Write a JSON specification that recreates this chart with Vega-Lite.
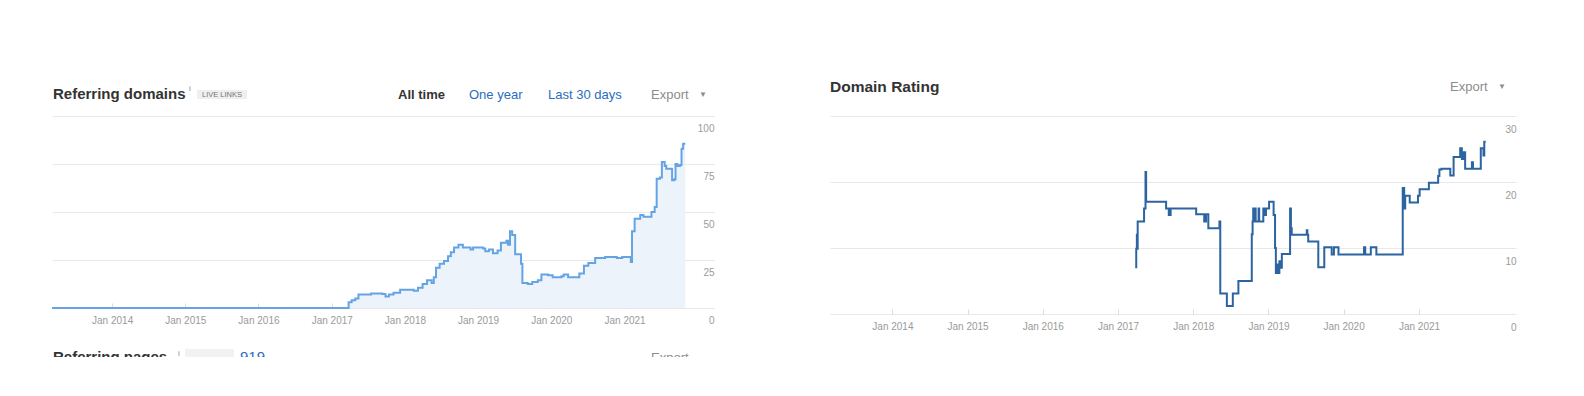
{
  "$schema": "https://vega.github.io/schema/vega-lite/v6.json",
  "background": "white",
  "padding": {"left": 48, "top": 79, "right": 10, "bottom": 0},
  "bounds": "flush",
  "spacing": 116,
  "config": {
    "view": {"stroke": null},
    "font": "Liberation Sans",
    "axis": {
      "labelFont": "Liberation Sans",
      "labelColor": "#9a9a9a",
      "labelFontSize": 10,
      "domain": false,
      "gridColor": "#e8e8e8",
      "gridWidth": 1,
      "title": null
    }
  },
  "datasets": {
    "refdomains": [
      {"date": "2013-03-07", "value": 0},
      {"date": "2017-03-15", "value": 0},
      {"date": "2017-03-26", "value": 3},
      {"date": "2017-04-10", "value": 4},
      {"date": "2017-04-28", "value": 5},
      {"date": "2017-05-14", "value": 7},
      {"date": "2017-07-16", "value": 7.5},
      {"date": "2017-09-10", "value": 7.3},
      {"date": "2017-09-26", "value": 6},
      {"date": "2017-10-13", "value": 7},
      {"date": "2017-11-05", "value": 8},
      {"date": "2017-12-08", "value": 9.5},
      {"date": "2018-02-14", "value": 9},
      {"date": "2018-03-07", "value": 10.5},
      {"date": "2018-03-30", "value": 12.5},
      {"date": "2018-04-21", "value": 14.5},
      {"date": "2018-05-14", "value": 13},
      {"date": "2018-05-25", "value": 16},
      {"date": "2018-06-05", "value": 21},
      {"date": "2018-06-23", "value": 23},
      {"date": "2018-07-15", "value": 24.5},
      {"date": "2018-08-04", "value": 27},
      {"date": "2018-08-18", "value": 29},
      {"date": "2018-09-03", "value": 31.5},
      {"date": "2018-09-25", "value": 33},
      {"date": "2018-10-17", "value": 31.5},
      {"date": "2018-11-24", "value": 30.5},
      {"date": "2018-12-07", "value": 31.5},
      {"date": "2019-01-26", "value": 31},
      {"date": "2019-02-06", "value": 29.5},
      {"date": "2019-02-24", "value": 30.5},
      {"date": "2019-03-16", "value": 28.5},
      {"date": "2019-04-08", "value": 30},
      {"date": "2019-04-25", "value": 34},
      {"date": "2019-05-22", "value": 35},
      {"date": "2019-05-31", "value": 33},
      {"date": "2019-06-09", "value": 40},
      {"date": "2019-06-20", "value": 38},
      {"date": "2019-07-05", "value": 28},
      {"date": "2019-08-03", "value": 23},
      {"date": "2019-08-10", "value": 13},
      {"date": "2019-09-06", "value": 12.5},
      {"date": "2019-09-28", "value": 13.5},
      {"date": "2019-10-26", "value": 14.5},
      {"date": "2019-11-13", "value": 17.5},
      {"date": "2019-12-16", "value": 17},
      {"date": "2020-01-08", "value": 16},
      {"date": "2020-02-21", "value": 16.5},
      {"date": "2020-03-03", "value": 17.5},
      {"date": "2020-03-25", "value": 16},
      {"date": "2020-05-20", "value": 18},
      {"date": "2020-06-12", "value": 22},
      {"date": "2020-07-04", "value": 23.5},
      {"date": "2020-08-07", "value": 26},
      {"date": "2020-09-26", "value": 26.5},
      {"date": "2020-11-23", "value": 26},
      {"date": "2020-12-20", "value": 26.5},
      {"date": "2021-02-01", "value": 24},
      {"date": "2021-02-07", "value": 40},
      {"date": "2021-02-20", "value": 46.5},
      {"date": "2021-03-20", "value": 48.5},
      {"date": "2021-04-05", "value": 47.5},
      {"date": "2021-05-15", "value": 50},
      {"date": "2021-05-31", "value": 52.6},
      {"date": "2021-06-10", "value": 67.3},
      {"date": "2021-06-26", "value": 68},
      {"date": "2021-07-06", "value": 76},
      {"date": "2021-07-20", "value": 74},
      {"date": "2021-07-28", "value": 72.5},
      {"date": "2021-08-26", "value": 66.5},
      {"date": "2021-09-06", "value": 67},
      {"date": "2021-09-12", "value": 75},
      {"date": "2021-09-22", "value": 74},
      {"date": "2021-10-04", "value": 74.5},
      {"date": "2021-10-12", "value": 83},
      {"date": "2021-10-20", "value": 85.6},
      {"date": "2021-10-31", "value": 85.6}
    ],
    "dr": [
      {"date": "2017-03-25", "value": 7.1},
      {"date": "2017-03-30", "value": 9.9},
      {"date": "2017-04-02", "value": 12},
      {"date": "2017-04-04", "value": 9.9},
      {"date": "2017-04-06", "value": 14},
      {"date": "2017-05-07", "value": 16},
      {"date": "2017-05-14", "value": 21.5},
      {"date": "2017-05-17", "value": 17},
      {"date": "2017-08-22", "value": 16},
      {"date": "2017-09-04", "value": 15},
      {"date": "2017-09-13", "value": 16},
      {"date": "2018-01-15", "value": 15.1},
      {"date": "2018-02-23", "value": 14},
      {"date": "2018-03-04", "value": 15.1},
      {"date": "2018-03-15", "value": 13},
      {"date": "2018-05-08", "value": 14},
      {"date": "2018-05-12", "value": 3.1},
      {"date": "2018-06-13", "value": 1.2},
      {"date": "2018-07-12", "value": 3.1},
      {"date": "2018-08-08", "value": 5},
      {"date": "2018-10-12", "value": 12.1},
      {"date": "2018-10-16", "value": 14},
      {"date": "2018-10-19", "value": 16},
      {"date": "2018-10-23", "value": 14},
      {"date": "2018-10-27", "value": 16},
      {"date": "2018-10-31", "value": 14},
      {"date": "2018-11-14", "value": 16},
      {"date": "2018-11-17", "value": 14},
      {"date": "2018-12-07", "value": 16},
      {"date": "2018-12-16", "value": 15},
      {"date": "2018-12-20", "value": 16},
      {"date": "2019-01-04", "value": 17},
      {"date": "2019-01-26", "value": 15},
      {"date": "2019-02-02", "value": 10},
      {"date": "2019-02-06", "value": 6.2},
      {"date": "2019-02-14", "value": 7.5},
      {"date": "2019-02-17", "value": 6.2},
      {"date": "2019-02-23", "value": 8},
      {"date": "2019-02-28", "value": 7},
      {"date": "2019-03-07", "value": 9.1},
      {"date": "2019-04-16", "value": 16},
      {"date": "2019-04-20", "value": 13},
      {"date": "2019-04-24", "value": 12},
      {"date": "2019-07-06", "value": 12.7},
      {"date": "2019-07-09", "value": 12},
      {"date": "2019-07-13", "value": 11},
      {"date": "2019-08-31", "value": 7.1},
      {"date": "2019-09-29", "value": 10.1},
      {"date": "2019-11-04", "value": 9},
      {"date": "2019-11-15", "value": 10.1},
      {"date": "2019-12-07", "value": 9},
      {"date": "2020-04-09", "value": 10.1},
      {"date": "2020-04-15", "value": 9},
      {"date": "2020-05-12", "value": 10.1},
      {"date": "2020-06-08", "value": 9},
      {"date": "2020-10-14", "value": 19.1},
      {"date": "2020-10-21", "value": 16},
      {"date": "2020-10-26", "value": 17.9},
      {"date": "2020-11-17", "value": 16.9},
      {"date": "2020-12-27", "value": 17.9},
      {"date": "2021-01-04", "value": 18.9},
      {"date": "2021-02-18", "value": 19.9},
      {"date": "2021-04-04", "value": 20.9},
      {"date": "2021-04-10", "value": 21.9},
      {"date": "2021-04-20", "value": 22},
      {"date": "2021-06-02", "value": 21},
      {"date": "2021-06-18", "value": 23.8},
      {"date": "2021-07-20", "value": 25.1},
      {"date": "2021-07-28", "value": 23.5},
      {"date": "2021-08-04", "value": 24.5},
      {"date": "2021-08-13", "value": 22},
      {"date": "2021-09-15", "value": 23},
      {"date": "2021-09-20", "value": 22},
      {"date": "2021-10-28", "value": 25.1},
      {"date": "2021-11-10", "value": 24},
      {"date": "2021-11-14", "value": 26.1},
      {"date": "2021-11-21", "value": 26.1}
    ]
  },
  "hconcat": [
    {
      "width": 662,
      "height": 192,
      "layer": [
        {
          "data": {"name": "refdomains"},
          "mark": {"type": "area", "interpolate": "step-after", "color": "#edf3fb"},
          "encoding": {
            "x": {
              "field": "date", "type": "temporal",
              "scale": {"domain": [{"year": 2013, "month": 3, "date": 7}, {"year": 2022, "month": 3, "date": 23}]},
              "axis": {
                "values": [
                  {"year": 2014, "month": 1, "date": 1}, {"year": 2015, "month": 1, "date": 1},
                  {"year": 2016, "month": 1, "date": 1}, {"year": 2017, "month": 1, "date": 1},
                  {"year": 2018, "month": 1, "date": 1}, {"year": 2019, "month": 1, "date": 1},
                  {"year": 2020, "month": 1, "date": 1}, {"year": 2021, "month": 1, "date": 1}
                ],
                "format": "%b %Y",
                "grid": false,
                "ticks": true,
                "tickSize": -5,
                "tickColor": "#dddddd",
                "labelPadding": 12
              }
            },
            "y": {
              "field": "value", "type": "quantitative",
              "scale": {"domain": [0, 100]},
              "axis": {
                "orient": "right",
                "values": [0, 25, 50, 75, 100],
                "ticks": false,
                "labelAlign": "right",
                "labelPadding": 0,
                "labelBaseline": "middle",
                "labelOffset": 12.5
              }
            }
          }
        },
        {
          "data": {"name": "refdomains"},
          "mark": {"type": "line", "interpolate": "step-after", "color": "#64a3e4", "strokeWidth": 2},
          "encoding": {
            "x": {"field": "date", "type": "temporal"},
            "y": {"field": "value", "type": "quantitative"}
          }
        },
        {"data": {"values": [{}]}, "mark": {"type": "text", "text": "Referring domains", "x": 1, "y": -22, "align": "left", "baseline": "middle", "fontSize": 15, "fontWeight": "bold", "color": "#333333"}, "encoding": {}},
        {"data": {"values": [{}]}, "mark": {"type": "text", "text": "i", "x": 138, "y": -27, "align": "center", "baseline": "middle", "fontSize": 8, "color": "#888888"}, "encoding": {}},
        {"data": {"values": [{}]}, "mark": {"type": "rect", "x": 145, "x2": 195, "y": -26, "y2": -17, "color": "#efefef"}, "encoding": {}},
        {"data": {"values": [{}]}, "mark": {"type": "text", "text": "LIVE LINKS", "x": 170, "y": -21.3, "align": "center", "baseline": "middle", "fontSize": 7.5, "color": "#777777"}, "encoding": {}},
        {"data": {"values": [{}]}, "mark": {"type": "text", "text": "All time", "x": 346, "y": -21.5, "align": "left", "baseline": "middle", "fontSize": 13, "fontWeight": "bold", "color": "#333333"}, "encoding": {}},
        {"data": {"values": [{}]}, "mark": {"type": "rule", "x": 405, "y": -29, "y2": -14, "color": "#e3e3e3"}, "encoding": {}},
        {"data": {"values": [{}]}, "mark": {"type": "text", "text": "One year", "x": 417, "y": -21.5, "align": "left", "baseline": "middle", "fontSize": 13, "color": "#2b6cc0"}, "encoding": {}},
        {"data": {"values": [{}]}, "mark": {"type": "rule", "x": 483, "y": -29, "y2": -14, "color": "#e3e3e3"}, "encoding": {}},
        {"data": {"values": [{}]}, "mark": {"type": "text", "text": "Last 30 days", "x": 496, "y": -21.5, "align": "left", "baseline": "middle", "fontSize": 13, "color": "#2b6cc0"}, "encoding": {}},
        {"data": {"values": [{}]}, "mark": {"type": "text", "text": "Export", "x": 599, "y": -21.5, "align": "left", "baseline": "middle", "fontSize": 13, "color": "#8c8c8c"}, "encoding": {}},
        {"data": {"values": [{}]}, "mark": {"type": "text", "text": "▼", "x": 651, "y": -21.5, "align": "center", "baseline": "middle", "fontSize": 8, "color": "#8c8c8c"}, "encoding": {}},
        {"data": {"values": [{}]}, "mark": {"type": "text", "text": "Referring pages", "x": 1, "y": 246, "align": "left", "baseline": "alphabetic", "fontSize": 15, "fontWeight": "bold", "color": "#333333"}, "encoding": {}},
        {"data": {"values": [{}]}, "mark": {"type": "text", "text": "i", "x": 127, "y": 238, "align": "center", "baseline": "middle", "fontSize": 8, "color": "#888888"}, "encoding": {}},
        {"data": {"values": [{}]}, "mark": {"type": "rect", "x": 133, "x2": 182, "y": 233, "y2": 243, "color": "#f2f2f2"}, "encoding": {}},
        {"data": {"values": [{}]}, "mark": {"type": "text", "text": "919", "x": 188, "y": 246, "align": "left", "baseline": "alphabetic", "fontSize": 15, "color": "#2b6cc0"}, "encoding": {}},
        {"data": {"values": [{}]}, "mark": {"type": "text", "text": "Export", "x": 599, "y": 246, "align": "left", "baseline": "alphabetic", "fontSize": 13, "color": "#8c8c8c"}, "encoding": {}},
        {"data": {"values": [{}]}, "mark": {"type": "rect", "x": 0, "x2": 700, "y": 241, "y2": 281, "color": "#ffffff"}, "encoding": {}}
      ]
    },
    {
      "width": 686,
      "height": 198,
      "layer": [
        {
          "data": {"name": "dr"},
          "mark": {"type": "line", "interpolate": "step-after", "color": "#2c64a2", "strokeWidth": 2},
          "encoding": {
            "x": {
              "field": "date", "type": "temporal",
              "scale": {"domain": [{"year": 2013, "month": 3, "date": 4}, {"year": 2022, "month": 4, "date": 17}]},
              "axis": {
                "values": [
                  {"year": 2014, "month": 1, "date": 1}, {"year": 2015, "month": 1, "date": 1},
                  {"year": 2016, "month": 1, "date": 1}, {"year": 2017, "month": 1, "date": 1},
                  {"year": 2018, "month": 1, "date": 1}, {"year": 2019, "month": 1, "date": 1},
                  {"year": 2020, "month": 1, "date": 1}, {"year": 2021, "month": 1, "date": 1}
                ],
                "format": "%b %Y",
                "grid": false,
                "ticks": true,
                "tickSize": -5,
                "tickColor": "#dddddd",
                "labelPadding": 12
              }
            },
            "y": {
              "field": "value", "type": "quantitative",
              "scale": {"domain": [0, 30]},
              "axis": {
                "orient": "right",
                "values": [0, 10, 20, 30],
                "ticks": false,
                "labelAlign": "right",
                "labelPadding": 0,
                "labelBaseline": "middle",
                "labelOffset": 13.5
              }
            }
          }
        },
        {"data": {"values": [{}]}, "mark": {"type": "text", "text": "Domain Rating", "x": 0, "y": -29.5, "align": "left", "baseline": "middle", "fontSize": 15.5, "fontWeight": "bold", "color": "#333333"}, "encoding": {}},
        {"data": {"values": [{}]}, "mark": {"type": "text", "text": "Export", "x": 620, "y": -29.5, "align": "left", "baseline": "middle", "fontSize": 13, "color": "#8c8c8c"}, "encoding": {}},
        {"data": {"values": [{}]}, "mark": {"type": "text", "text": "▼", "x": 672, "y": -29.5, "align": "center", "baseline": "middle", "fontSize": 8, "color": "#8c8c8c"}, "encoding": {}}
      ]
    }
  ]
}
